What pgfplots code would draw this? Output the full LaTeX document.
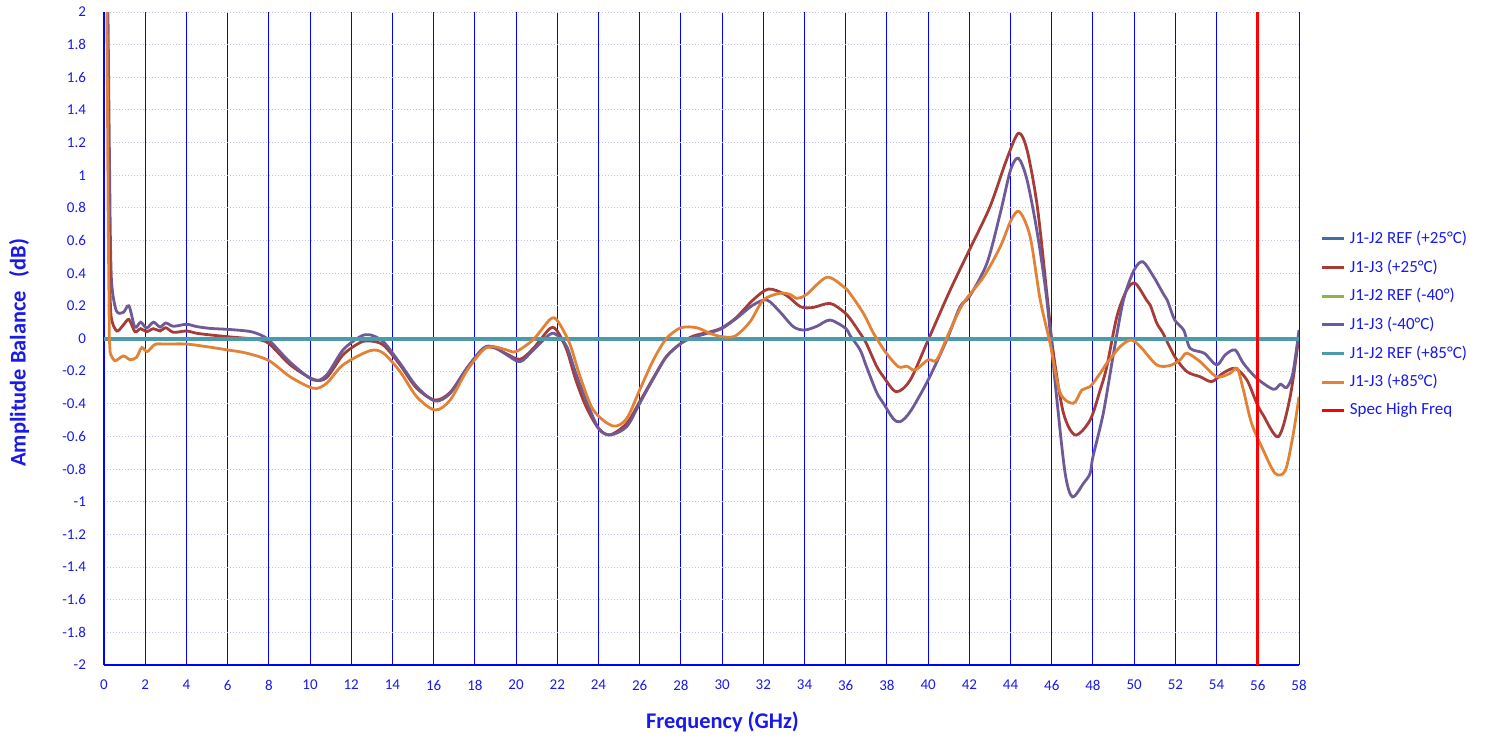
\documentclass[border=0pt]{standalone}
\usepackage{fontspec}
\setmainfont{Carlito}
\usepackage{pgfplots}
\pgfplotsset{compat=1.18}
\definecolor{refA}{RGB}{65,110,160}
\definecolor{jA}{RGB}{165,60,55}
\definecolor{refB}{RGB}{140,180,70}
\definecolor{jB}{RGB}{110,90,150}
\definecolor{refC}{RGB}{75,155,170}
\definecolor{jC}{RGB}{225,130,55}
\definecolor{tickblue}{RGB}{25,25,235}
\definecolor{hgrid}{RGB}{190,190,245}
\begin{document}
\begin{tikzpicture}
\path[use as bounding box] (-52pt,-37.5pt) rectangle (691pt,332.5pt);
\begin{axis}[
width=597.5pt,height=326.5pt,scale only axis,
xmin=0,xmax=58,ymin=-2,ymax=2,
xtick={0,2,...,58},
ytick={-2,-1.8,-1.6,-1.4,-1.2,-1,-0.8,-0.6,-0.4,-0.2,0,0.2,0.4,0.6,0.8,1,1.2,1.4,1.6,1.8,2},
yticklabels={-2,-1.8,-1.6,-1.4,-1.2,-1,-0.8,-0.6,-0.4,-0.2,0,0.2,0.4,0.6,0.8,1,1.2,1.4,1.6,1.8,2},
/pgf/number format/assume math mode=true,
major tick length=0pt,
axis lines*=left,
axis line style={-,color=blue,line width=0.6pt},
grid=major,
x grid style={color=blue,line width=0.5pt},
y grid style={color=hgrid,line width=0.5pt,densely dotted},
ticklabel style={font=\fontsize{7.5}{9}\selectfont,color=tickblue},
xticklabel style={yshift=-4pt},
yticklabel style={xshift=-5.5pt},
xlabel={\textbf{Frequency (GHz)}},
ylabel={\textbf{Amplitude Balance\hspace{0.6em}(dB)}},
label style={font=\fontsize{11.2}{13}\selectfont,color=tickblue},
xlabel style={at={(axis description cs:0.5176,-0.0873)},anchor=center},
ylabel style={at={(axis description cs:-0.0711,0.478)},anchor=center},
legend style={draw=none,fill=none,inner sep=0pt,at={(1.018,0.5214)},anchor=west,
  font=\fontsize{8.5}{10}\selectfont,text=tickblue,row sep=2.6pt},
legend cell align=left,
legend image code/.code={\draw[#1,line width=1.5pt] (0pt,0pt) -- (11pt,0pt);},
]
\addplot[refA,line width=2pt] coordinates {(0,0)(58,0)};
\addlegendentry{J1-J2 REF (+25°C)}
\addplot[jA,line width=1.4pt,smooth] coordinates {
(0.28,0.35)(0.35,0.13)(0.62,0.046)(0.94,0.083)(1.21,0.117)(1.5,0.042)(1.78,0.06)(2.07,0.042)(2.4,0.06)(2.72,0.046)(3.0,0.066)(3.37,0.038)(4.0,0.046)(4.5,0.032)(5.15,0.022)(6,0.011)(6.93,0.001)(7.4,-0.005)(8,-0.03)(9.03,-0.16)(10.16,-0.25)(10.8,-0.24)(11.6,-0.10)(12.43,-0.025)(12.9,-0.015)(13.56,-0.04)(14.37,-0.162)(15.18,-0.305)(16.07,-0.377)(16.8,-0.33)(17.6,-0.185)(18.4,-0.065)(18.9,-0.055)(19.55,-0.095)(20.2,-0.127)(20.84,-0.06)(21.65,0.062)(22.0,0.045)(22.46,-0.07)(22.9,-0.254)(23.4,-0.418)(24.0,-0.55)(24.56,-0.59)(25.37,-0.52)(26,-0.387)(26.67,-0.24)(27.3,-0.11)(28,-0.03)(28.6,0.015)(29.4,0.04)(30,0.066)(30.7,0.13)(31.5,0.236)(32.25,0.303)(33.1,0.266)(33.8,0.195)(34.4,0.19)(35.24,0.215)(35.9,0.164)(36.2,0.124)(36.7,0.032)(37.0,-0.03)(37.5,-0.17)(37.83,-0.234)(38.45,-0.326)(39.13,-0.254)(40,-0.009)(41.07,0.297)(42,0.542)(43,0.807)(43.8,1.093)(44.38,1.257)(44.8,1.155)(45.3,0.807)(45.76,0.277)(46.08,-0.091)(46.57,-0.458)(47.14,-0.591)(47.86,-0.5)(48.35,-0.315)(48.67,-0.173)(49.16,0.134)(49.64,0.297)(50.05,0.338)(50.6,0.236)(50.78,0.205)(51.1,0.093)(51.4,0.032)(51.97,-0.111)(52.56,-0.203)(53.2,-0.234)(53.77,-0.264)(54.3,-0.213)(54.9,-0.183)(55.47,-0.254)(55.95,-0.397)(56.26,-0.469)(57.0,-0.601)(57.57,-0.357)(58,0.02)
};
\addlegendentry{J1-J3 (+25°C)}
\addplot[refB,line width=2pt] coordinates {(0,0)(58,0)};
\addlegendentry{J1-J2 REF (-40°)}
\addplot[jB,line width=1.4pt,smooth] coordinates {
(0.3,0.7)(0.37,0.34)(0.6,0.17)(0.94,0.16)(1.21,0.2)(1.5,0.07)(1.78,0.10)(2.07,0.064)(2.4,0.10)(2.72,0.07)(3.0,0.095)(3.37,0.075)(4.0,0.087)(4.5,0.073)(5.15,0.062)(6,0.056)(6.93,0.046)(7.4,0.032)(8,-0.009)(9.03,-0.145)(10.16,-0.254)(10.8,-0.224)(11.6,-0.07)(12.43,0.011)(12.9,0.023)(13.56,-0.02)(14.37,-0.152)(15.18,-0.295)(16.07,-0.383)(16.8,-0.336)(17.6,-0.183)(18.4,-0.06)(18.9,-0.05)(19.55,-0.10)(20.2,-0.142)(20.84,-0.07)(21.65,0.026)(22.0,0.02)(22.46,-0.05)(22.9,-0.213)(23.4,-0.377)(24,-0.55)(24.56,-0.591)(25.37,-0.54)(26,-0.397)(26.67,-0.244)(27.3,-0.111)(28,-0.03)(28.6,0.007)(29.4,0.036)(30,0.062)(30.7,0.124)(31.5,0.205)(32.17,0.236)(32.8,0.164)(33.46,0.072)(34,0.052)(34.6,0.075)(35.24,0.113)(36,0.062)(36.2,0.02)(36.7,-0.07)(37,-0.17)(37.5,-0.33)(37.83,-0.397)(38.3,-0.49)(38.64,-0.51)(39.13,-0.448)(40,-0.254)(40.9,-0.009)(41.55,0.195)(42,0.256)(42.85,0.46)(43.5,0.767)(44,1.032)(44.38,1.104)(44.8,0.971)(45.3,0.644)(45.76,0.236)(46.25,-0.377)(46.65,-0.826)(47.0,-0.97)(47.54,-0.887)(47.86,-0.826)(48,-0.724)(48.5,-0.458)(49.0,-0.09)(49.48,0.236)(50,0.42)(50.42,0.47)(50.94,0.379)(51.4,0.277)(51.6,0.236)(51.97,0.113)(52.4,0.052)(52.72,-0.06)(53.4,-0.09)(54,-0.162)(54.42,-0.1)(54.9,-0.07)(55.3,-0.152)(55.95,-0.244)(56.76,-0.311)(57.1,-0.28)(57.4,-0.3)(57.7,-0.213)(58,0.052)
};
\addlegendentry{J1-J3 (-40°C)}
\addplot[refC,line width=2pt] coordinates {(0,0)(58,0)};
\addlegendentry{J1-J2 REF (+85°C)}
\addplot[jC,line width=1.4pt,smooth] coordinates {
(0.3,-0.09)(0.53,-0.136)(0.94,-0.107)(1.27,-0.13)(1.58,-0.115)(1.83,-0.056)(2.1,-0.08)(2.48,-0.036)(3.0,-0.034)(4.0,-0.034)(4.98,-0.05)(6,-0.07)(6.93,-0.09)(8,-0.135)(9.03,-0.234)(10.16,-0.305)(10.8,-0.275)(11.6,-0.162)(12.9,-0.075)(13.56,-0.09)(14.37,-0.203)(15.18,-0.357)(16.07,-0.438)(16.8,-0.377)(17.6,-0.2)(18.4,-0.07)(18.9,-0.05)(19.55,-0.07)(20,-0.08)(20.84,-0.006)(21.65,0.117)(22.0,0.11)(22.6,-0.03)(23.1,-0.23)(23.75,-0.438)(24.7,-0.536)(25.37,-0.49)(26,-0.315)(26.67,-0.13)(27.3,0)(28,0.066)(28.77,0.066)(29.4,0.032)(30.0,0.011)(30.63,0.015)(31.36,0.103)(32,0.236)(32.8,0.277)(33.3,0.27)(33.64,0.246)(34.1,0.27)(35.08,0.375)(35.9,0.317)(36.2,0.277)(36.86,0.154)(37.35,0.032)(37.97,-0.09)(38.56,-0.173)(38.97,-0.17)(39.37,-0.193)(40,-0.13)(40.42,-0.13)(41.07,0.052)(41.7,0.215)(42.7,0.379)(43.5,0.562)(44.03,0.726)(44.43,0.777)(44.95,0.624)(45.44,0.236)(45.92,-0.03)(46.4,-0.33)(47.05,-0.397)(47.46,-0.315)(47.86,-0.295)(48.35,-0.213)(48.67,-0.152)(49.32,-0.05)(49.84,-0.009)(50.3,-0.05)(51.1,-0.162)(51.75,-0.165)(52.23,-0.13)(52.56,-0.09)(53.2,-0.142)(54,-0.234)(54.66,-0.213)(55.0,-0.183)(55.3,-0.315)(55.7,-0.52)(56.26,-0.683)(56.84,-0.826)(57.33,-0.81)(57.7,-0.6)(58,-0.357)
};
\addlegendentry{J1-J3 (+85°C)}
\addplot[red,line width=1.5pt] coordinates {(56,-2)(56,2)};
\addlegendentry{Spec High Freq}
% steep rise at the low end, drawn without smoothing
\addplot[jA,line width=1.4pt,forget plot] coordinates {(0.15,2.3)(0.22,1.0)(0.28,0.35)};
\addplot[jB,line width=1.4pt,forget plot] coordinates {(0.17,2.3)(0.24,1.4)(0.3,0.7)};
\addplot[jC,line width=1.4pt,forget plot] coordinates {(0.13,2.3)(0.2,0.8)(0.26,0.0)(0.3,-0.09)};
\end{axis}
\end{tikzpicture}
\end{document}
